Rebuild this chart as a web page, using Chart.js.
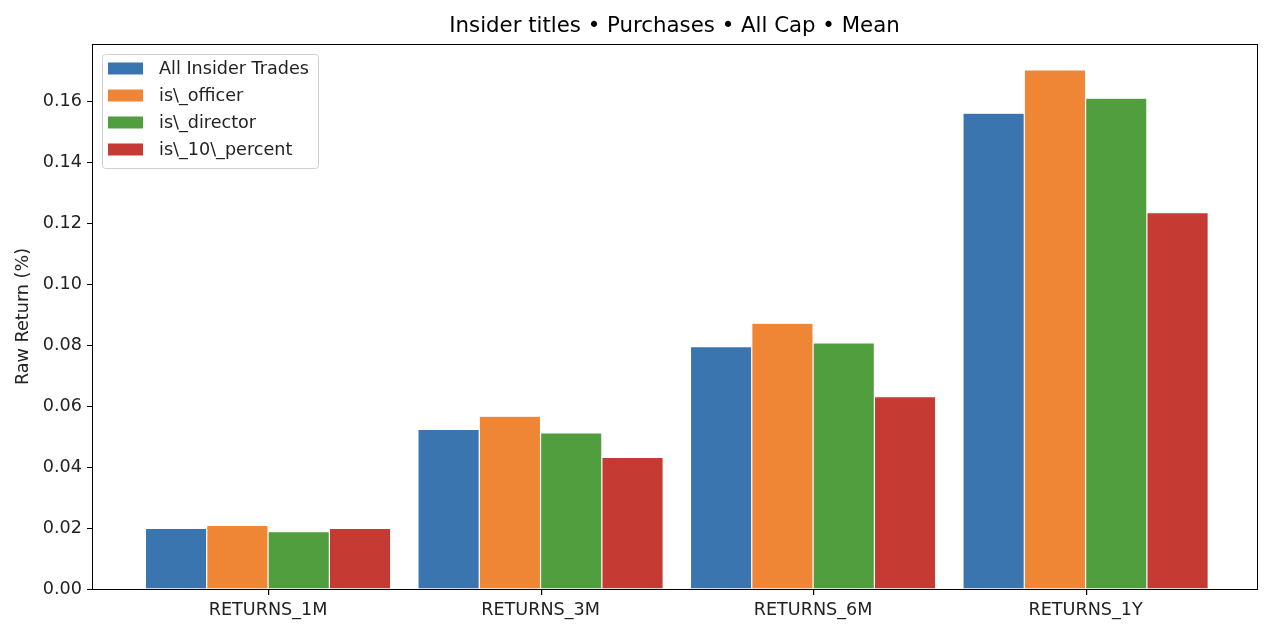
<!DOCTYPE html>
<html>
<head>
<meta charset="utf-8">
<script src="https://cdn.jsdelivr.net/npm/chart.js@4/dist/chart.umd.min.js"></script>
<style>
html,body{margin:0;padding:0;background:#fff;}
#wrap{width:1268px;height:640px;position:relative;}
</style>
</head>
<body>
<div id="wrap"><canvas id="c" width="1268" height="640"></canvas></div>
<script>
const categories = ["RETURNS_1M", "RETURNS_3M", "RETURNS_6M", "RETURNS_1Y"];
const seriesNames = ["All Insider Trades", "is\\_officer", "is\\_director", "is\\_10\\_percent"];
const allTrades = [0.0199, 0.0524, 0.0795, 0.1561];
const isOfficer = [0.0209, 0.0567, 0.0872, 0.1703];
const isDirector = [0.0188, 0.0512, 0.0807, 0.1610];
const is10Percent = [0.0199, 0.0432, 0.0631, 0.1235];
const yTicks = [0.00, 0.02, 0.04, 0.06, 0.08, 0.10, 0.12, 0.14, 0.16];
const yMax = 0.1788;
const titleText = "Insider titles • Purchases • All Cap • Mean";
const yLabel = "Raw Return (%)";

const colors = ["#3b75af", "#ef8636", "#519e3e", "#c53a32"];
const FONT = "'DejaVu Sans', sans-serif";
const seriesValues = [allTrades, isOfficer, isDirector, is10Percent];
const xMin = -0.646, xMax = categories.length - 1 + 0.629;

const datasets = seriesValues.map((vals, i) => ({
  label: seriesNames[i],
  data: vals.map((v, j) => ({ x: j, y: v })),
  backgroundColor: colors[i],
  borderColor: "rgba(255,255,255,0.5)",
  borderWidth: 0.6,
  categoryPercentage: 0.9,
  barPercentage: 1.0
}));

const framePlugin = {
  id: "frame",
  afterDraw(chart) {
    const ctx = chart.ctx;
    const a = chart.chartArea;
    ctx.save();
    ctx.strokeStyle = "#000";
    ctx.lineWidth = 1;
    ctx.strokeRect(Math.round(a.left) + 0.5, Math.round(a.top) + 0.5, Math.round(a.right - a.left), Math.round(a.bottom - a.top));
    // x tick marks at category centres
    const xs = chart.scales.x;
    ctx.fillStyle = "#000";
    categories.forEach((c, i) => {
      const px = Math.round(xs.getPixelForValue(i));
      ctx.fillRect(px, Math.round(a.bottom), 1.2, 6);
    });
    // title
    ctx.font = "21.3px " + FONT;
    ctx.textAlign = "center";
    ctx.textBaseline = "middle";
    ctx.fillText(titleText, (a.left + a.right) / 2, 26);
    // legend
    const lx = a.left + 10, ly = a.top + 10;
    const rowH = 27;
    ctx.font = "17.6px " + FONT;
    const boxW = 216;
    const boxH = 114;
    ctx.fillStyle = "rgba(255,255,255,0.8)";
    ctx.strokeStyle = "#d0d0d0";
    ctx.lineWidth = 1;
    ctx.beginPath();
    if (ctx.roundRect) ctx.roundRect(lx + 0.5, ly + 0.5, boxW, boxH, 3); else ctx.rect(lx + 0.5, ly + 0.5, boxW, boxH);
    ctx.fill();
    ctx.stroke();
    ctx.textAlign = "left";
    chart.data.datasets.forEach((d, i) => {
      const cy = ly + 14.5 + i * rowH;
      ctx.fillStyle = d.backgroundColor;
      ctx.fillRect(lx + 6, cy - 6, 35, 12);
      ctx.fillStyle = "#222";
      ctx.fillText(d.label, lx + 57, cy + 1);
    });
    ctx.restore();
  }
};

new Chart(document.getElementById("c"), {
  type: "bar",
  data: { datasets },
  options: {
    responsive: false,
    animation: false,
    devicePixelRatio: 1,
    layout: { padding: { top: 44, right: 11, left: 13, bottom: 0 } },
    plugins: { legend: { display: false }, title: { display: false }, tooltip: { enabled: false } },
    scales: {
      x: {
        type: "linear",
        min: xMin,
        max: xMax,
        offset: false,
        afterBuildTicks(s) { s.ticks = categories.map((c, i) => ({ value: i })); },
        grid: { display: false },
        border: { display: true, color: "#000" },
        ticks: { color: "#222", font: { family: FONT, size: 17.6 }, padding: 3, autoSkip: false, maxRotation: 0, callback: v => categories[v] },
        afterFit(s) { s.height = 51; }
      },
      y: {
        min: 0,
        max: yMax,
        afterBuildTicks(s) { s.ticks = yTicks.map(v => ({ value: v })); },
        grid: { display: true, drawOnChartArea: false, drawTicks: true, tickLength: 5, color: "#000", lineWidth: 1 },
        border: { display: true, color: "#000" },
        ticks: { color: "#222", font: { family: FONT, size: 17.6 }, padding: 5, callback: v => Number(v).toFixed(2) },
        title: { display: true, text: yLabel, color: "#222", font: { family: FONT, size: 17.6 }, padding: { top: 0, bottom: 4 } },
        afterFit(s) { s.width = 79; }
      }
    }
  },
  plugins: [framePlugin]
});
</script>
</body>
</html>
